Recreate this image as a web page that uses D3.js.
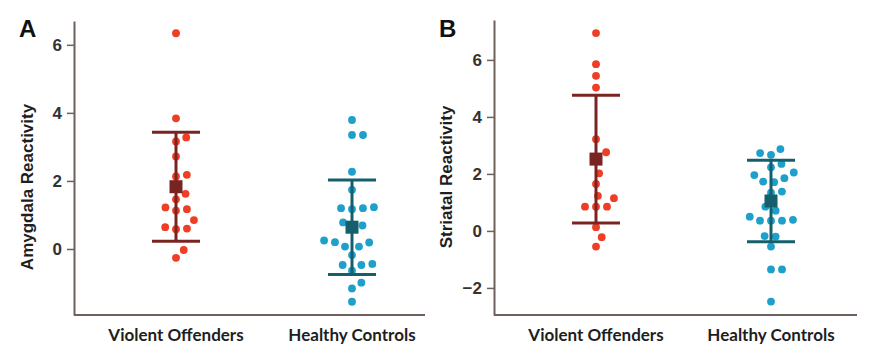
<!DOCTYPE html>
<html>
<head>
<meta charset="utf-8">
<script src="https://cdn.jsdelivr.net/npm/d3@7"></script>
<style>
  body { margin: 0; background: #fff; }
</style>
</head>
<body>
<svg id="drawing_region"></svg>
<script>
// groups on the x axis
const groups = ['Violent Offenders', 'Healthy Controls'];

// panel A: amygdala reactivity, one value per subject
const amygdalaOffenders = [6.34, 3.84, 3.28, 3.16, 2.72, 2.18, 2.13, 1.62, 1.46, 1.22,
                           1.17, 1.13, 0.85, 0.64, 0.60, 0.58, -0.03, -0.26];
const amygdalaControls = [3.79, 3.35, 3.35, 2.27, 1.74, 1.23, 1.20, 1.20, 1.17, 0.78,
                          0.69, 0.59, 0.25, 0.20, 0.19, 0.07, 0.07, -0.18, -0.44, -0.47,
                          -0.47, -0.64, -0.99, -1.16, -1.55];
const amygdalaMean = [1.83, 0.64];
const amygdalaSD = [1.60, 1.39];
const amygdalaTicks = [0, 2, 4, 6];

// panel B: striatal reactivity
const striatalOffenders = [6.94, 5.85, 5.44, 5.03, 3.22, 2.76, 2.61, 2.02, 1.65, 1.23,
                           1.15, 0.85, 0.85, 0.85, 0.13, -0.22, -0.55];
const striatalControls = [2.87, 2.73, 2.67, 2.35, 2.23, 2.05, 1.96, 1.85, 1.73, 1.71,
                          1.38, 1.34, 0.85, 0.71, 0.50, 0.39, 0.36, 0.36, 0.36, -0.18,
                          -0.20, -0.55, -1.35, -1.35, -2.48];
const striatalMean = [2.52, 1.05];
const striatalSD = [2.24, 1.43];
const striatalTicks = [-2, 0, 2, 4, 6];

const dotColor = ['#ee3e26', '#1ea0cb'];
const barColor = ['#7a2422', '#155f6d'];

class DotPlot {
    constructor (config, data) {
        this.config = config;
        this.data = data;
        this.init();
    }

    init() {
        let self = this;
        const c = self.config;

        self.chart = d3.select(c.parent).append('g')
            .attr('transform', `translate(${c.left}, ${c.top})`);

        self.inner_width = c.width;
        self.inner_height = c.height;

        self.xscale = d3.scalePoint()
            .domain(groups)
            .range(c.xrange);

        self.yscale = d3.scaleLinear()
            .domain(c.ydomain)
            .range([self.inner_height, 0]);

        self.render();
    }

    // simple beeswarm: place points from the lowest up, nearest free spot to the centre
    swarm(values) {
        let self = this;
        const d = 11;
        const placed = [];
        values.slice().sort((a, b) => a - b).forEach(v => {
            const y = self.yscale(v);
            let cands = [0];
            placed.forEach(p => {
                const dy = Math.abs(p.y - y);
                if (dy < d) {
                    const off = Math.sqrt(d * d - dy * dy);
                    cands.push(p.dx + off, p.dx - off);
                }
            });
            cands.sort((a, b) => (Math.abs(a) - Math.abs(b)) || (b - a));
            const ok = cands.find(x => placed.every(p => {
                const dy = p.y - y, dx = p.dx - x;
                return dx * dx + dy * dy >= d * d - 0.01;
            }));
            placed.push({ v: v, y: y, dx: ok });
        });
        return placed;
    }

    render() {
        let self = this;
        const c = self.config;

        // axes
        const yaxis = d3.axisLeft(self.yscale)
            .tickValues(c.ticks)
            .tickFormat(d3.format('d'))
            .tickSize(7)
            .tickSizeOuter(0)
            .tickPadding(5);

        const yg = self.chart.append('g').call(yaxis);
        yg.select('.domain').attr('stroke', '#6e605b').attr('stroke-width', 2);
        yg.selectAll('.tick line').attr('stroke', '#6e605b').attr('stroke-width', 1.5);
        yg.selectAll('.tick text')
            .attr('fill', '#333')
            .style('font-family', '"Liberation Sans", Arial, sans-serif')
            .style('font-size', '17px')
            .style('font-weight', 'bold');

        self.chart.append('line')
            .attr('x1', 0)
            .attr('x2', self.inner_width)
            .attr('y1', self.inner_height)
            .attr('y2', self.inner_height)
            .attr('stroke', '#6e605b')
            .attr('stroke-width', 2);

        self.chart.selectAll('.glabel')
            .data(groups)
            .enter()
            .append('text')
            .attr('class', 'glabel')
            .attr('x', d => self.xscale(d))
            .attr('y', self.inner_height + 26)
            .attr('text-anchor', 'middle')
            .attr('fill', '#1e1e1e')
            .style('font-family', 'Lato, sans-serif')
            .style('font-size', '17px')
            .style('font-weight', 'bold')
            .text(d => d);

        self.chart.append('text')
            .attr('transform', `translate(${c.ylabel_x}, ${c.ylabel_y}) rotate(-90)`)
            .attr('text-anchor', 'middle')
            .attr('dy', '0.35em')
            .attr('fill', '#1e1e1e')
            .style('font-family', '"Liberation Sans", Arial, sans-serif')
            .style('font-size', '17px')
            .style('font-weight', 'bold')
            .text(c.ylabel);

        self.chart.append('text')
            .attr('x', c.letter_x)
            .attr('y', c.letter_y)
            .attr('fill', '#111')
            .style('font-family', '"Liberation Sans", Arial, sans-serif')
            .style('font-size', '24px')
            .style('font-weight', 'bold')
            .text(c.letter);

        // dots
        self.data.forEach((grp, i) => {
            const cx = self.xscale(groups[i]);
            self.chart.append('g')
                .selectAll('circle')
                .data(self.swarm(grp.values))
                .enter()
                .append('circle')
                .attr('cx', d => cx + d.dx)
                .attr('cy', d => d.y)
                .attr('r', 3.9)
                .attr('fill', dotColor[i]);
        });

        // mean and SD bars on top
        self.data.forEach((grp, i) => {
            const cx = self.xscale(groups[i]);
            const g = self.chart.append('g')
                .attr('stroke', barColor[i])
                .attr('stroke-width', 3);
            const hi = self.yscale(grp.mean + grp.sd);
            const lo = self.yscale(grp.mean - grp.sd);
            g.append('line')
                .attr('x1', cx).attr('x2', cx)
                .attr('y1', hi).attr('y2', lo);
            [hi, lo].forEach(y => {
                g.append('line')
                    .attr('x1', cx - 24).attr('x2', cx + 24)
                    .attr('y1', y).attr('y2', y);
            });
            self.chart.append('rect')
                .attr('x', cx - 6.5)
                .attr('y', self.yscale(grp.mean) - 6.5)
                .attr('width', 13)
                .attr('height', 13)
                .attr('fill', barColor[i]);
        });
    }
}

d3.select('#drawing_region')
    .attr('width', 869)
    .attr('height', 350);

new DotPlot({
    parent: '#drawing_region',
    left: 74, top: 21, width: 351, height: 294,
    xrange: [102, 278],
    ydomain: [-1.94, 6.7],
    ticks: amygdalaTicks,
    ylabel: 'Amygdala Reactivity',
    ylabel_x: -47, ylabel_y: 166,
    letter: 'A', letter_x: -55, letter_y: 16
}, [
    { values: amygdalaOffenders, mean: amygdalaMean[0], sd: amygdalaSD[0] },
    { values: amygdalaControls, mean: amygdalaMean[1], sd: amygdalaSD[1] }
]);

new DotPlot({
    parent: '#drawing_region',
    left: 494, top: 20, width: 363, height: 295,
    xrange: [102, 277],
    ydomain: [-2.95, 7.4],
    ticks: striatalTicks,
    ylabel: 'Striatal Reactivity',
    ylabel_x: -48, ylabel_y: 157,
    letter: 'B', letter_x: -55, letter_y: 17
}, [
    { values: striatalOffenders, mean: striatalMean[0], sd: striatalSD[0] },
    { values: striatalControls, mean: striatalMean[1], sd: striatalSD[1] }
]);
</script>
</body>
</html>
